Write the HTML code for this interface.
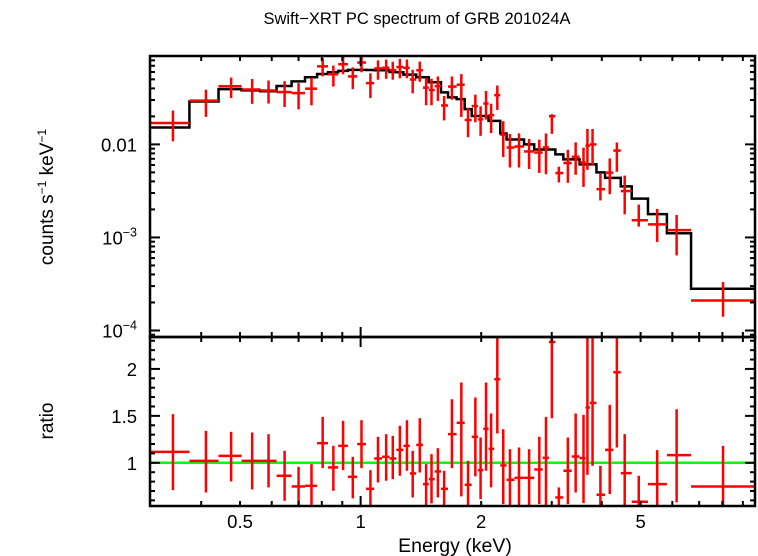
<!DOCTYPE html>
<html><head><meta charset="utf-8"><style>
html,body{margin:0;padding:0;background:#fff;}
svg{display:block;font-family:"Liberation Sans",sans-serif;}
</style></head><body>
<svg id="chart" width="758" height="556" viewBox="0 0 758 556">
<text x="417" y="24" font-size="16.5" text-anchor="middle">Swift−XRT PC spectrum of GRB 201024A</text>
<text transform="translate(53,197) rotate(-90)" font-size="19" text-anchor="middle">counts s<tspan font-size="12" dy="-7">−1</tspan><tspan dy="7"> keV</tspan><tspan font-size="12" dy="-7">−1</tspan></text>
<text transform="translate(53,421) rotate(-90)" font-size="19" text-anchor="middle">ratio</text>
<text x="455" y="552" font-size="19.5" text-anchor="middle">Energy (keV)</text>
<g id="top-labels"></g>
<g id="bot-labels"></g>
<g id="marks"></g>
</svg>
<script>
const energy=[0.340,0.411,0.475,0.536,0.589,0.646,0.700,0.754,0.804,0.855,0.904,0.956,1.005,1.058,1.105,1.158,1.203,1.253,1.305,1.349,1.405,1.457,1.503,1.559,1.616,1.690,1.784,1.854,1.934,1.993,2.056,2.117,2.194,2.270,2.359,2.485,2.634,2.793,2.902,3.002,3.125,3.291,3.442,3.601,3.683,3.793,3.968,4.187,4.362,4.563,4.947,5.50,6.15,8.03];
const counts=[0.0170,0.0295,0.0422,0.0389,0.0380,0.0365,0.0356,0.0397,0.0690,0.0567,0.0727,0.0538,0.0758,0.0455,0.0655,0.0666,0.0628,0.0678,0.0664,0.0498,0.0626,0.0407,0.0384,0.0422,0.0262,0.0418,0.0438,0.0183,0.0258,0.0186,0.0275,0.0206,0.0338,0.0127,0.00925,0.00949,0.0084,0.00818,0.00927,0.0201,0.00492,0.00631,0.00736,0.00641,0.00969,0.00999,0.0033,0.00497,0.00858,0.00315,0.00153,0.00138,0.00120,0.00021];
const model=[0.0152,0.0289,0.0393,0.0381,0.0372,0.0424,0.0476,0.0526,0.0571,0.0596,0.0616,0.0632,0.0632,0.0630,0.0626,0.0626,0.0600,0.0596,0.0562,0.0562,0.0526,0.0526,0.0465,0.0465,0.0362,0.0320,0.0307,0.0239,0.0202,0.0202,0.0202,0.0179,0.0179,0.0131,0.0113,0.0113,0.0100,0.0088,0.0088,0.0088,0.0078,0.0069,0.0069,0.0061,0.0061,0.0061,0.0050,0.00437,0.00437,0.00354,0.00261,0.00178,0.00111,0.000281];
const ratio=[1.117,1.021,1.074,1.021,1.021,0.862,0.748,0.755,1.209,0.951,1.181,0.851,1.199,0.723,1.046,1.064,1.046,1.138,1.181,0.887,1.191,0.773,0.826,0.908,0.723,1.305,1.426,0.766,1.277,0.922,1.362,1.149,1.890,0.972,0.819,0.840,0.840,0.929,1.053,2.287,0.631,0.915,1.067,1.050,1.589,1.638,0.660,1.138,1.964,0.890,0.585,0.773,1.082,0.748];
const ratioHi=[1.518,1.34,1.330,1.323,1.305,1.128,0.957,0.986,1.489,1.181,1.447,1.064,1.454,0.922,1.277,1.305,1.287,1.394,1.454,1.128,1.475,0.986,1.092,1.156,0.915,1.677,1.855,1.021,1.695,1.270,1.855,1.525,2.40,1.358,1.145,1.163,1.145,1.277,1.489,2.40,0.738,1.270,1.525,1.511,2.40,2.40,0.968,1.617,2.40,1.305,0.862,1.135,1.571,1.181];
const ratioLo=[0.709,0.684,0.801,0.716,0.738,0.596,0.50,0.50,0.943,0.702,0.922,0.621,0.943,0.50,0.791,0.809,0.826,0.862,0.915,0.631,0.897,0.50,0.567,0.631,0.50,0.943,0.642,0.50,0.855,0.613,0.915,0.738,1.312,0.560,0.50,0.50,0.543,0.560,0.543,1.475,0.50,0.560,0.684,0.571,0.872,0.968,0.50,0.667,1.163,0.50,0.50,0.50,0.578,0.50];
const xTickLabels=[0.5,1,2,5];
const yTickLabelsTop=[["0.01",-2],["10","-3"],["10","-4"]];
const ratioTickLabels=[1,1.5,2];

const NS="http://www.w3.org/2000/svg";
const X0=150,X1=755,TT=56,TB=337,BT=337,BB=506;
const ELO=0.298,EHI=9.65;
function xs(e){return X0+(Math.log10(e)-Math.log10(ELO))/(Math.log10(EHI)-Math.log10(ELO))*(X1-X0);}
const YLT=-1.05,YLB=-4.07;
function ysT(v){return TT+(YLT-Math.log10(v))/(YLT-YLB)*(TB-TT);}
const RT=2.34,RB=0.54;
function ysB(r){return BT+(RT-r)/(RT-RB)*(BB-BT);}
const svg=document.getElementById('chart');
const marks=document.getElementById('marks');
function mk(tag,attrs,parent){const e=document.createElementNS(NS,tag);for(const k in attrs)e.setAttribute(k,attrs[k]);(parent||marks).appendChild(e);return e;}
const defs=mk('defs',{},svg);
const c1=mk('clipPath',{id:'ct'},defs);mk('rect',{x:X0,y:TT,width:X1-X0,height:TB-TT},c1);
const c2=mk('clipPath',{id:'cb'},defs);mk('rect',{x:X0,y:BT,width:X1-X0,height:BB-BT},c2);
// bin edges: geometric midpoints; last bin symmetric (log) about its centre
const edges=[ELO];
const N=energy.length;
for(let i=0;i<N-2;i++)edges.push(Math.sqrt(energy[i]*energy[i+1]));
edges.push(energy[N-1]*energy[N-1]/EHI);
edges.push(EHI);
const gT=mk('g',{'clip-path':'url(#ct)'});


const gB=mk('g',{'clip-path':'url(#cb)'});


let d='';
for(let i=0;i<model.length;i++){const y=ysT(model[i]);d+=(i===0?'M':'L')+xs(edges[i])+','+y+'L'+xs(edges[i+1])+','+y;}
const mp=mk('path',{d:d,fill:'none',stroke:'#000','stroke-width':2.5},gT);


for(let i=0;i<counts.length;i++){
 const x=xs(energy[i]),xa=xs(edges[i]),xb=xs(edges[i+1]);
 const y=ysT(counts[i]);
 const yh=ysT(counts[i]*ratioHi[i]/ratio[i]),yl=ysT(counts[i]*ratioLo[i]/ratio[i]);
 const g=mk('g',{stroke:'#f00','stroke-width':2.5},gT);
 
 
 mk('line',{x1:xa,x2:xb,y1:y,y2:y},g);mk('line',{x1:x,x2:x,y1:yh,y2:yl},g);
}
const gl=mk('line',{x1:X0,x2:X1,y1:ysB(1),y2:ysB(1),stroke:'#0f0','stroke-width':2.5},gB);


for(let i=0;i<ratio.length;i++){
 const x=xs(energy[i]),xa=xs(edges[i]),xb=xs(edges[i+1]);
 const y=ysB(ratio[i]);
 const g=mk('g',{stroke:'#f00','stroke-width':2.5},gB);
 
 
 mk('line',{x1:xa,x2:xb,y1:y,y2:y},g);mk('line',{x1:x,x2:x,y1:ysB(ratioHi[i]),y2:ysB(ratioLo[i])},g);
}
const f1=mk('rect',{x:X0,y:TT,width:X1-X0,height:TB-TT,fill:'none',stroke:'#000','stroke-width':2.5});


const f2=mk('rect',{x:X0,y:BT,width:X1-X0,height:BB-BT,fill:'none',stroke:'#000','stroke-width':2.5});


const tk=mk('g',{stroke:'#000','stroke-width':2});


function tl(x1,y1,x2,y2){mk('line',{x1,y1,x2,y2},tk);}
const xt=[0.4,0.5,0.6,0.7,0.8,0.9,1,2,3,4,5,6,7,8,9];
for(const e of xt){const x=xs(e),L=(e===1)?10:5;
 tl(x,TT,x,TT+L);tl(x,TB,x,TB-L);tl(x,BT,x,BT+L);tl(x,BB,x,BB-L);}
for(let dec=-5;dec<=-1;dec++)for(let m=1;m<10;m++){const v=m*Math.pow(10,dec);const lv=Math.log10(v);if(lv>YLT||lv<YLB)continue;const y=ysT(v),L=m===1?10:5;tl(X0,y,X0+L,y);tl(X1,y,X1-L,y);}
for(let k=6;k<=23;k++){const r=k/10;const y=ysB(r),L=(k%5===0)?10:5;tl(X0,y,X0+L,y);tl(X1,y,X1-L,y);}
const lt=document.getElementById('top-labels'),lb=document.getElementById('bot-labels');
yTickLabelsTop.forEach(function(p){const v=Math.pow(10,Number(p[1]));const y=ysT(v)+7;
 const t=mk('text',{x:137,y:y,'font-size':18.5,'text-anchor':'end'},lt);
 
 
 if(p[0]==="0.01")t.textContent="0.01";else{t.textContent=p[0];const s=mk('tspan',{'font-size':12.5,dy:-8},t);s.textContent='−'+String(p[1]).replace('-','');}
});
ratioTickLabels.forEach(function(r){const t=mk('text',{x:137,y:ysB(r)+7,'font-size':18.5,'text-anchor':'end'},lb);
 
 
 t.textContent=String(r);});
xTickLabels.forEach(function(e){const t=mk('text',{x:xs(e),y:528,'font-size':18.5,'text-anchor':'middle'},lb);
 
 
 t.textContent=String(e);});
</script>
</body></html>
